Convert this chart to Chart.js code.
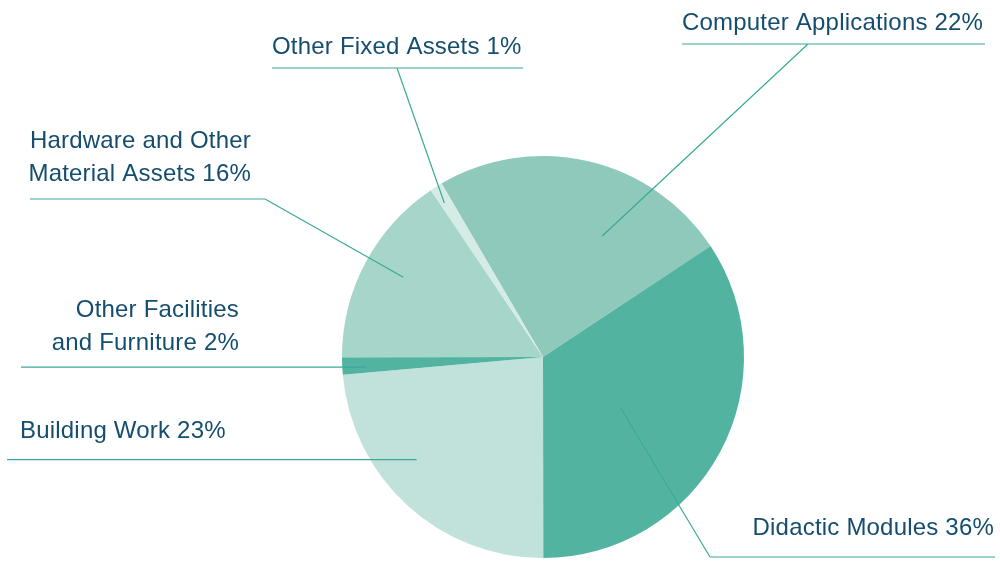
<!DOCTYPE html>
<html>
<head>
<meta charset="utf-8">
<script src="https://cdn.jsdelivr.net/npm/chart.js@4"></script>
<style>
  html, body { margin: 0; padding: 0; background: #fff; }
  canvas { display: block; }
</style>
</head>
<body>
<canvas id="pieChart" width="1000" height="561"></canvas>
<script>
// slices, clockwise from the top-left
const categories = [
  "Computer Applications",
  "Didactic Modules",
  "Building Work",
  ["Other Facilities", "and Furniture"],
  ["Hardware and Other", "Material Assets"],
  "Other Fixed Assets"
];
// percentages printed next to each label
const printedPct = [22, 36, 23, 2, 16, 1];
// slice sizes as drawn in the picture
const shares = [24.1, 34.3, 23.6, 1.4, 15.6, 1.0];
const colors = ["#8fc9bc", "#52b3a0", "#c1e2da", "#52b3a0", "#a6d5ca", "#d5ebe6"];

const textColor = "#154d6f";
const lineColor = "#3aaa97";

// label placement: text anchor/baseline, leader horizontal, and where the leader
// ends inside its slice (t = fraction across the slice angle, r = fraction of radius)
const callouts = [
  { x: 682, y: 30, align: "left", lineY: 44, x1: 682, x2: 985, knee: 808, t: 0.65, r: 0.67 },
  { x: 994, y: 535, align: "right", lineY: 557, x1: 710, x2: 995, knee: 710, t: 0.54, r: 0.46 },
  { x: 20, y: 438, align: "left", lineY: null, x1: 7, t: 0.6, r: 0.81 },
  { x: 239, y: 317, align: "right", lineY: null, x1: 21, t: 0.36, r: 0.88 },
  { x: 251, y: 148, align: "right", lineY: 199, x1: 30, x2: 265, knee: 265, t: 0.53, r: 0.8 },
  { x: 272, y: 54, align: "left", lineY: 68, x1: 272, x2: 523, knee: 397, t: 0.35, r: 0.91 }
];

const calloutPlugin = {
  id: "callouts",
  afterDatasetsDraw(chart) {
    const ctx = chart.ctx;
    const arcs = chart.getDatasetMeta(0).data;
    ctx.save();
    ctx.font = "24px 'Liberation Sans', Arial, sans-serif";
    ctx.letterSpacing = "0.2px";
    ctx.fillStyle = textColor;
    ctx.textBaseline = "alphabetic";
    categories.forEach((cat, i) => {
      const c = callouts[i];
      const lines = Array.isArray(cat) ? cat.slice() : [cat];
      lines[lines.length - 1] += " " + printedPct[i] + "%";
      ctx.textAlign = c.align;
      lines.forEach((ln, k) => ctx.fillText(ln, c.x, c.y + k * 32.5));

      // leader end point inside the slice
      const a = arcs[i];
      const ang = a.startAngle + (a.endAngle - a.startAngle) * c.t;
      const ex = a.x + Math.cos(ang) * a.outerRadius * c.r;
      const ey = a.y + Math.sin(ang) * a.outerRadius * c.r;

      ctx.strokeStyle = lineColor;
      ctx.lineWidth = 1.2;
      ctx.beginPath();
      if (c.lineY === null) {
        ctx.moveTo(c.x1, ey);
        ctx.lineTo(ex, ey);
      } else {
        ctx.moveTo(c.x1, c.lineY);
        ctx.lineTo(c.x2, c.lineY);
        ctx.moveTo(c.knee, c.lineY);
        ctx.lineTo(ex, ey);
      }
      ctx.stroke();
    });
    ctx.restore();
  }
};

new Chart(document.getElementById("pieChart").getContext("2d"), {
  type: "pie",
  data: {
    labels: categories,
    datasets: [{
      data: shares,
      backgroundColor: colors,
      borderWidth: 0,
      hoverOffset: 0
    }]
  },
  options: {
    responsive: false,
    animation: false,
    rotation: -30.3,
    layout: { padding: { left: 342, right: 256, top: 156, bottom: 3 } },
    plugins: {
      legend: { display: false },
      tooltip: { enabled: false }
    }
  },
  plugins: [calloutPlugin]
});
</script>
</body>
</html>
